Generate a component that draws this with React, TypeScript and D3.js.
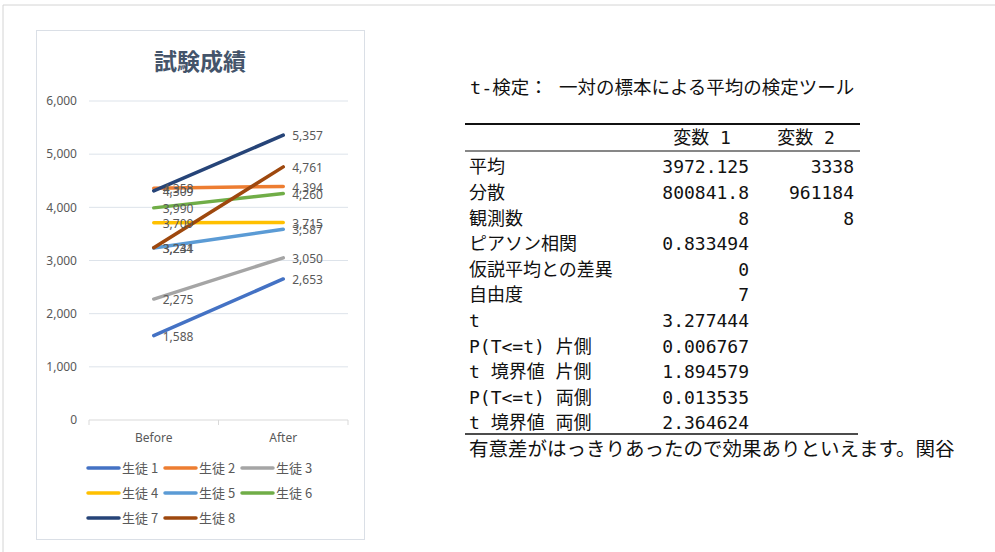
import * as d3 from "d3";

const categories = ["Before", "After"];
const students = ["生徒 1", "生徒 2", "生徒 3", "生徒 4", "生徒 5", "生徒 6", "生徒 7", "生徒 8"];
const beforeScores = [1588, 4358, 2275, 3709, 3234, 3990, 4309, 3241];
const afterScores = [2653, 4394, 3050, 3715, 3587, 4260, 5357, 4761];
const colors = ["#4472C4", "#ED7D31", "#A5A5A5", "#FFC000", "#5B9BD5", "#70AD47", "#264478", "#9E480E"];
const yTicks = [0, 1000, 2000, 3000, 4000, 5000, 6000];

const statLabels = [
  "平均",
  "分散",
  "観測数",
  "ピアソン相関",
  "仮説平均との差異",
  "自由度",
  "t",
  "P(T<=t) 片側",
  "t 境界値 片側",
  "P(T<=t) 両側",
  "t 境界値 両側",
];
const var1Values = ["3972.125", "800841.8", "8", "0.833494", "0", "7", "3.277444", "0.006767", "1.894579", "0.013535", "2.364624"];
const var2Values = ["3338", "961184", "8", "", "", "", "", "", "", "", ""];

const App = () => {
  const y = d3.scaleLinear().domain([0, 6000]).range([420, 101]);
  const x = d3.scaleBand().domain(categories).range([89, 348]);
  const cx = (c: string) => (x(c) ?? 0) + x.bandwidth() / 2;
  const fmt = d3.format(",");

  const line = d3
    .line<{ cat: string; v: number }>()
    .x((d) => cx(d.cat))
    .y((d) => y(d.v));

  const series = students.map((s, i) => ({
    name: s,
    color: colors[i],
    pts: [
      { cat: "Before", v: beforeScores[i] },
      { cat: "After", v: afterScores[i] },
    ],
  }));

  const rowY = d3.scaleLinear().domain([0, 10]).range([167, 423]);
  const mono = "'DejaVu Sans Mono', 'Noto Sans CJK JP', monospace";
  const cjk = "'Noto Sans CJK JP', sans-serif";
  const sans = "'Noto Sans', sans-serif";

  return (
    <svg width={995} height={552} style={{ position: "absolute", left: 0, top: 0, background: "#fff" }}>
      <line x1={3} y1={5} x2={995} y2={5} stroke="#d4d4d4" />
      <line x1={3} y1={5} x2={3} y2={552} stroke="#d4d4d4" />

      {/* chart frame */}
      <rect x={36.5} y={30.5} width={328} height={509} fill="#fff" stroke="#dadfe6" />
      <text x={200} y={70} textAnchor="middle" fontFamily={cjk} fontSize={23} fontWeight="bold" fill="#44546A">
        試験成績
      </text>

      {yTicks.map((t) => (
        <g key={t}>
          {t > 0 && <line x1={89} x2={348} y1={y(t)} y2={y(t)} stroke="#dde3ea" />}
          <text x={77} y={y(t)} dy="0.35em" textAnchor="end" fontFamily={sans} fontSize={12} fill="#595959">
            {fmt(t)}
          </text>
        </g>
      ))}
      <line x1={89} x2={348} y1={420} y2={420} stroke="#d9d9d9" />
      {[89, 89 + x.bandwidth(), 348].map((tx, i) => (
        <line key={i} x1={tx} x2={tx} y1={420} y2={425} stroke="#d9d9d9" />
      ))}
      {categories.map((c) => (
        <text key={c} x={cx(c)} y={442} textAnchor="middle" fontFamily={sans} fontSize={12} fill="#595959">
          {c}
        </text>
      ))}

      {series.map((s) => (
        <path key={s.name} d={line(s.pts) ?? ""} fill="none" stroke={s.color} strokeWidth={3.5} strokeLinecap="round" />
      ))}
      {series.map((s) =>
        s.pts.map((p) => (
          <text
            key={s.name + p.cat}
            x={cx(p.cat) + 9}
            y={y(p.v) + 1}
            dy="0.35em"
            fontFamily={sans}
            fontSize={12}
            fill="#595959"
          >
            {fmt(p.v)}
          </text>
        ))
      )}

      {/* legend */}
      {series.map((s, i) => {
        const col = i % 3;
        const row = Math.floor(i / 3);
        const lx = 88 + col * 77;
        const ly = 468 + row * 25;
        return (
          <g key={s.name}>
            <line x1={lx} x2={lx + 31} y1={ly} y2={ly} stroke={s.color} strokeWidth={3.5} strokeLinecap="round" />
            <text x={lx + 34} y={ly} dy="0.35em" fontFamily={cjk} fontSize={13} fill="#595959">
              {s.name}
            </text>
          </g>
        );
      })}

      {/* t-test table */}
      <text x={470} y={94} fontFamily={mono} fontSize={18.5} fill="#111">
        t-検定： 一対の標本による平均の検定ツール
      </text>
      <line x1={465} x2={860} y1={124} y2={124} stroke="#111" strokeWidth={2} />
      <text x={702} y={138} dy="0.35em" textAnchor="middle" fontFamily={mono} fontSize={18} fill="#111">
        変数 1
      </text>
      <text x={806} y={138} dy="0.35em" textAnchor="middle" fontFamily={mono} fontSize={18} fill="#111">
        変数 2
      </text>
      <line x1={465} x2={860} y1={151} y2={151} stroke="#111" strokeWidth={1.2} />
      {statLabels.map((l, i) => (
        <g key={l}>
          <text x={469} y={rowY(i)} dy="0.35em" fontFamily={mono} fontSize={18} fill="#111">
            {l}
          </text>
          <text x={749} y={rowY(i)} dy="0.35em" textAnchor="end" fontFamily={mono} fontSize={18} fill="#111">
            {var1Values[i]}
          </text>
          <text x={854} y={rowY(i)} dy="0.35em" textAnchor="end" fontFamily={mono} fontSize={18} fill="#111">
            {var2Values[i]}
          </text>
        </g>
      ))}
      <line x1={465} x2={858} y1={434} y2={434} stroke="#111" strokeWidth={1.5} />
      <text x={469} y={449} dy="0.35em" fontFamily={cjk} fontSize={19.5} fill="#111">
        有意差がはっきりあったので効果ありといえます。関谷
      </text>
    </svg>
  );
};

export default App;
